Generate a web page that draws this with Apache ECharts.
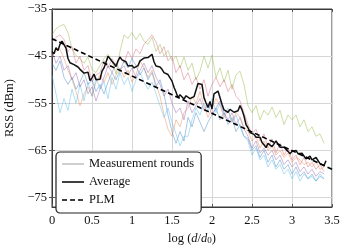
<!DOCTYPE html>
<html><head><meta charset="utf-8">
<script src="https://cdn.jsdelivr.net/npm/echarts@6/dist/echarts.min.js"></script>
<style>html,body{margin:0;padding:0;background:#fff}#c{width:345px;height:248px}</style>
</head><body><div id="c"></div>
<script>
// x positions (log(d/d0)) of measurement samples
const xs = [0,0.05,0.1,0.15,0.2,0.25,0.3,0.35,0.4,0.45,0.5,0.55,0.6,0.65,0.7,0.75,0.8,0.85,0.9,0.95,
  1,1.05,1.1,1.15,1.2,1.25,1.3,1.35,1.4,1.45,1.5,1.55,1.6,1.65,1.7,1.75,1.8,1.85,1.9,1.95,
  2,2.05,2.1,2.15,2.2,2.25,2.3,2.35,2.4,2.45,2.5,2.55,2.6,2.65,2.7,2.75,2.8,2.85,2.9,2.95,
  3,3.05,3.1,3.15,3.2,3.25,3.3,3.35,3.4];
const roundGreen = [-40.5,-39.2,-38.6,-38.3,-40.0,-43.5,-44.8,-45.6,-46.5,-45.2,-47.8,-48.5,-47.0,-45.5,-44.6,-46.0,-48.8,-44.0,-40.5,-41.2,
  -40.0,-41.5,-40.2,-41.8,-42.5,-41.0,-44.0,-42.5,-45.0,-43.8,-46.0,-45.0,-47.5,-45.2,-48.0,-46.5,-50.0,-48.2,-45.0,-47.5,
  -44.8,-49.5,-47.5,-50.5,-48.0,-52.0,-49.0,-48.2,-51.0,-55.5,-57.0,-55.5,-58.5,-56.5,-57.5,-55.8,-58.0,-56.5,-59.5,-57.5,
  -58.5,-57.5,-60.0,-58.5,-61.0,-60.0,-62.0,-61.5,-63.5];
const roundPink = [-42.0,-41.0,-40.5,-41.5,-44.0,-43.0,-46.5,-45.0,-48.0,-47.0,-50.5,-49.0,-48.5,-46.0,-47.5,-45.5,-47.0,-45.0,-46.5,-44.0,
  -45.5,-43.5,-44.5,-42.5,-41.5,-40.5,-42.0,-44.5,-43.0,-46.0,-45.0,-48.5,-47.0,-50.0,-48.5,-51.0,-49.5,-52.0,-50.0,-53.5,
  -51.0,-49.5,-51.5,-50.0,-52.5,-51.0,-53.5,-54.5,-57.0,-59.5,-61.5,-60.5,-63.0,-61.5,-64.5,-62.5,-65.5,-63.5,-66.0,-64.5,
  -67.0,-66.0,-68.0,-66.5,-68.5,-67.5,-69.0,-68.0,-69.5];
const roundOrange = [-45.0,-44.0,-43.5,-45.5,-48.0,-50.0,-52.5,-55.5,-53.0,-51.5,-53.5,-50.5,-49.0,-50.5,-48.5,-51.0,-49.0,-47.5,-49.5,-48.0,
  -50.5,-49.0,-46.0,-47.5,-49.5,-48.0,-51.0,-53.5,-57.5,-60.5,-62.0,-58.5,-60.0,-57.0,-56.0,-53.5,-55.0,-52.5,-55.5,-58.0,
  -56.0,-54.0,-55.5,-58.0,-56.5,-59.0,-57.0,-58.0,-60.0,-61.0,-63.0,-62.0,-64.5,-63.0,-65.0,-64.0,-66.0,-65.0,-66.5,-65.5,
  -67.5,-66.5,-67.0,-68.0,-67.5,-68.5,-67.5,-69.0,-68.5];
const roundBlue = [-46.5,-48.0,-46.0,-49.5,-51.0,-49.5,-52.0,-50.5,-48.5,-51.0,-50.0,-52.5,-51.0,-53.0,-50.5,-48.5,-50.0,-48.0,-46.0,-47.5,
  -45.5,-47.0,-49.0,-47.5,-50.0,-48.5,-51.5,-50.0,-53.0,-57.5,-61.0,-63.5,-61.0,-63.0,-58.0,-60.0,-57.0,-59.0,-61.0,-59.0,
  -57.5,-56.0,-58.5,-57.0,-59.5,-58.0,-61.0,-59.5,-62.0,-62.5,-65.0,-64.0,-66.5,-65.0,-67.5,-66.0,-68.5,-67.0,-69.0,-68.0,
  -70.0,-68.5,-70.5,-69.5,-71.0,-70.0,-71.5,-70.5,-71.0];
const roundCyan = [-49.0,-53.0,-57.0,-54.0,-56.5,-52.0,-55.0,-51.0,-54.5,-50.5,-53.5,-49.5,-52.0,-50.5,-54.0,-49.5,-52.0,-48.5,-51.0,-49.5,
  -52.5,-50.0,-48.5,-50.5,-52.0,-50.5,-53.0,-55.5,-58.0,-56.0,-59.0,-61.5,-64.0,-62.0,-62.0,-58.5,-56.0,-57.5,-55.0,-56.5,
  -54.0,-57.0,-55.0,-57.5,-56.0,-59.0,-57.5,-60.0,-62.0,-63.0,-66.0,-64.5,-67.0,-66.0,-68.5,-67.0,-69.0,-68.0,-70.0,-69.0,
  -71.0,-69.5,-71.5,-70.0,-71.0,-70.5,-71.5,-70.0,-71.0];
const roundPurple = [-44.0,-46.5,-45.0,-48.0,-47.0,-50.0,-48.5,-51.5,-50.0,-53.0,-51.5,-54.5,-52.0,-49.5,-47.0,-48.5,-46.5,-48.0,-47.0,-49.0,
  -47.5,-49.5,-48.0,-46.5,-48.5,-47.0,-49.5,-51.0,-53.5,-52.0,-55.0,-57.0,-56.0,-58.5,-54.5,-57.0,-55.5,-54.0,-56.5,-55.0,
  -57.5,-56.0,-54.5,-57.0,-58.5,-57.0,-59.5,-58.0,-60.5,-62.0,-64.5,-63.0,-65.5,-64.5,-66.0,-65.0,-67.0,-66.0,-68.0,-67.0,
  -68.5,-67.5,-69.5,-68.5,-70.0,-69.0,-70.5,-69.5,-70.0];

// Average curve (finer sampling)
const xsAvg = [0,0.025,0.05,0.075,0.1,0.125,0.15,0.175,0.2,0.225,0.25,0.275,0.3,0.325,0.35,0.375,0.4,0.425,0.45,0.475,
  0.5,0.525,0.55,0.575,0.6,0.625,0.65,0.675,0.7,0.725,0.75,0.775,0.8,0.825,0.85,0.875,0.9,0.925,0.95,0.975,
  1,1.025,1.05,1.075,1.1,1.125,1.15,1.175,1.2,1.225,1.25,1.275,1.3,1.325,1.35,1.375,1.4,1.425,1.45,1.475,
  1.5,1.525,1.55,1.575,1.6,1.625,1.65,1.675,1.7,1.725,1.75,1.775,1.8,1.825,1.85,1.875,1.9,1.925,1.95,1.975,
  2,2.025,2.05,2.075,2.1,2.125,2.15,2.175,2.2,2.225,2.25,2.275,2.3,2.325,2.35,2.375,2.4,2.425,2.45,2.475,
  2.5,2.525,2.55,2.575,2.6,2.625,2.65,2.675,2.7,2.725,2.75,2.775,2.8,2.825,2.85,2.875,2.9,2.925,2.95,2.975,
  3,3.025,3.05,3.075,3.1,3.125,3.15,3.175,3.2,3.225,3.25,3.275,3.3,3.325,3.35,3.375,3.4,3.425];
const average = [-44.0,-44.5,-43.2,-43.8,-42.5,-41.8,-42.0,-43.3,-45.5,-46.4,-46.0,-46.8,-46.5,-47.3,-47.8,-47.6,-48.6,-48.9,-48.4,-50.2,
  -49.6,-48.8,-50.0,-50.4,-49.9,-48.2,-47.5,-46.3,-45.0,-45.4,-46.1,-46.6,-47.2,-46.0,-45.2,-45.8,-45.4,-46.2,-47.1,-47.4,
  -47.0,-47.5,-47.8,-47.0,-46.0,-46.3,-45.4,-45.0,-45.3,-45.4,-44.6,-46.2,-47.1,-46.9,-47.3,-47.8,-48.5,-48.4,-48.9,-49.6,
  -50.3,-51.6,-52.6,-53.8,-53.2,-53.6,-54.1,-53.4,-53.1,-54.0,-54.1,-53.6,-53.5,-50.8,-51.2,-51.0,-53.8,-54.9,-55.9,-54.6,
  -56.2,-53.0,-52.6,-52.4,-52.0,-55.2,-56.4,-56.8,-56.9,-56.3,-56.2,-56.9,-56.7,-56.6,-55.5,-56.4,-57.7,-59.5,-60.2,-61.2,
  -61.0,-61.6,-62.2,-62.6,-62.2,-63.3,-63.8,-64.4,-63.5,-63.3,-64.2,-63.6,-63.0,-62.6,-64.3,-64.0,-64.3,-64.7,-65.2,-65.7,
  -65.2,-65.5,-65.0,-65.7,-66.1,-65.6,-65.8,-66.8,-66.4,-66.2,-67.0,-67.2,-66.5,-66.8,-67.8,-67.6,-68.2,-67.2];

// Path-loss model endpoints
const plmX = [0, 3.5];
const plmY = [-41.3, -69.0];

const yTicks = [-75, -65, -55, -45, -35];
const legendNames = ['Measurement rounds', 'Average', 'PLM'];

const zip = (a, b) => a.map((v, i) => [v, b[i]]);
const FONT = 'Liberation Serif';
const rounds = [
  [roundGreen, '#86ad2c'],
  [roundPink, '#d2566f'],
  [roundOrange, '#ee7a3a'],
  [roundBlue, '#2f7dc2'],
  [roundCyan, '#48b6ea'],
  [roundPurple, '#8a55a8']
];
const series = rounds.map(([vals, col], k) => ({
  name: 'round' + k, type: 'line', data: zip(xs, vals), symbol: 'none',
  lineStyle: { width: 1, color: col, opacity: 0.42 }, itemStyle: { color: col },
  silent: true, z: 2
}));
series.push({ name: 'Measurement rounds', type: 'line', data: [], symbol: 'none',
  lineStyle: { width: 1.5, color: '#c4c4c4' }, itemStyle: { color: '#c4c4c4' } });
series.push({ name: 'Average', type: 'line', data: zip(xsAvg, average), symbol: 'none',
  lineStyle: { width: 1.5, color: '#111' }, itemStyle: { color: '#111' }, z: 3 });
series.push({ name: 'PLM', type: 'line', data: zip(plmX, plmY), symbol: 'none',
  lineStyle: { width: 1.6, color: '#000', type: [5, 3] }, itemStyle: { color: '#000' }, z: 4 });

const SOLID = 'path://M0,0H22V1.6H0Z';
const DASHED = 'path://M0,0H5V1.6H0Z M8,0H13V1.6H8Z M16,0H21V1.6H16Z M22,0H22V1.6H22Z';

const minus = v => String(v).replace('-', '\u2212');
const chart = echarts.init(document.getElementById('c'), null, { renderer: 'canvas' });
chart.setOption({
  animation: false,
  backgroundColor: '#fff',
  grid: { left: 52, right: 13, top: 9, bottom: 41, containLabel: false, outerBoundsMode: 'none',
    show: true, borderColor: '#3a3a3a', borderWidth: 1 },
  legend: {
    data: [
      { name: legendNames[0], icon: SOLID },
      { name: legendNames[1], icon: SOLID },
      { name: legendNames[2], icon: DASHED }
    ],
    orient: 'vertical', left: 56, top: 152,
    itemWidth: 22, itemHeight: 1.6, itemGap: 2, symbolKeepAspect: false,
    itemStyle: { borderWidth: 0 },
    padding: [4, 7, 5, 6],
    backgroundColor: '#fff', borderColor: '#222', borderWidth: 1.2, borderRadius: 4,
    textStyle: { fontFamily: FONT, fontSize: 12.5, color: '#111', lineHeight: 16 }
  },
  xAxis: [{
    type: 'value', min: 0, max: 3.5, interval: 0.5, position: 'bottom',
    name: '{n|log (}{i|d}{n|/}{i|d}{s|0}{n|)}', nameLocation: 'middle', nameGap: 23,
    nameTextStyle: { rich: {
      n: { fontFamily: FONT, fontSize: 12.5, color: '#111' },
      i: { fontFamily: FONT, fontSize: 12.5, fontStyle: 'italic', color: '#111' },
      s: { fontFamily: FONT, fontSize: 9, color: '#111', padding: [5, 0, 0, 0] } } },
    axisLine: { show: true, lineStyle: { color: '#3a3a3a', width: 1 } },
    axisTick: { show: true, inside: true, length: 3, lineStyle: { color: '#555' } },
    axisLabel: { fontFamily: FONT, fontSize: 12.5, color: '#111', margin: 7 },
    splitLine: { show: true, lineStyle: { color: '#d6d6d6', width: 1 } }
  }, {
    type: 'value', min: 0, max: 3.5, interval: 0.5, position: 'top',
    axisLine: { show: true, lineStyle: { color: '#3a3a3a', width: 1 } },
    axisTick: { show: true, inside: true, length: 3, lineStyle: { color: '#555' } },
    axisLabel: { show: false }, splitLine: { show: false }
  }],
  yAxis: [{
    type: 'value', min: -77, max: -35, position: 'left',
    name: 'RSS (dBm)', nameLocation: 'middle', nameGap: 26,
    nameTextStyle: { fontFamily: FONT, fontSize: 12.5, color: '#111' },
    axisLine: { show: true, lineStyle: { color: '#3a3a3a', width: 1 } },
    axisTick: { show: true, inside: true, length: 3, customValues: yTicks, lineStyle: { color: '#555' } },
    axisLabel: { fontFamily: FONT, fontSize: 12.5, color: '#111', margin: 5, customValues: yTicks, formatter: minus },
    splitLine: { show: true, lineStyle: { color: '#d6d6d6', width: 1 } }
  }, {
    type: 'value', min: -77, max: -35, position: 'right',
    axisLine: { show: true, lineStyle: { color: '#3a3a3a', width: 1 } },
    axisTick: { show: true, inside: true, length: 3, customValues: yTicks, lineStyle: { color: '#555' } },
    axisLabel: { show: false, customValues: yTicks }, splitLine: { show: false }
  }],
  series: series
});
</script></body></html>
